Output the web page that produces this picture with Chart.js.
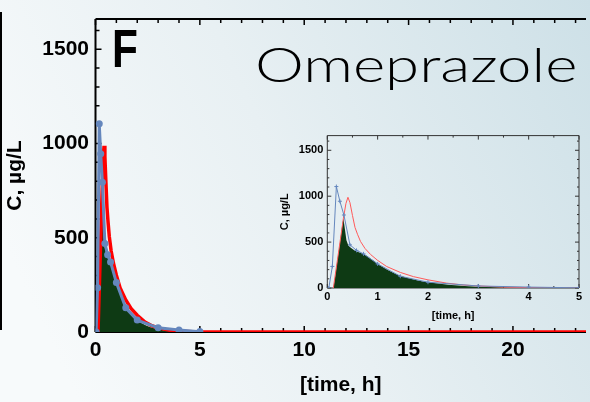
<!DOCTYPE html>
<html>
<head>
<meta charset="utf-8">
<script src="https://cdn.jsdelivr.net/npm/chart.js@4.4.1/dist/chart.umd.min.js"></script>
<style>
html, body { margin: 0; padding: 0; }
body {
    width: 590px; height: 402px; overflow: hidden; position: relative;
    background: linear-gradient(65deg, #f7fafb 10%, #e8f0f3 50%, #cde0e7 100%);
    font-family: "Liberation Sans", Arial, sans-serif;
}
#main { position: absolute; left: 0; top: 0; }
#inset { position: absolute; left: 270px; top: 125px; }
#edge { position: absolute; left: 0; top: 12px; width: 2px; height: 318px; background: #000; }
#panel {
    position: absolute; left: 112px; top: 22px; font: bold 53px "Liberation Sans", Arial, sans-serif;
    transform: scaleX(0.8); transform-origin: left top; line-height: 1;
}
#drug {
    position: absolute; left: 255px; top: 40px; font: 300 48px Lato, "Open Sans", sans-serif;
    transform-origin: left top; line-height: 1; white-space: nowrap;
}
</style>
</head>
<body>
<div id="edge"></div>
<canvas id="main" width="590" height="402"></canvas>
<canvas id="inset" width="320" height="200"></canvas>
<div id="panel">F</div>
<div id="drug">Omeprazole</div>
<script>
// Datos (tiempo en h, concentración en µg/L)
const blueT = [0.03, 0.1, 0.18, 0.25, 0.33, 0.45, 0.58, 0.72, 1.0, 1.45, 2.0, 3.0, 4.0, 5.0];
const blueC = [0, 235, 1105, 945, 795, 470, 410, 372, 262, 128, 63, 22, 10, 2];

const redT = [0.12, 0.2, 0.25, 0.32, 0.37, 0.41, 0.45, 0.5, 0.55, 0.6, 0.66, 0.75, 0.86, 1.0, 1.18, 1.45, 1.71, 2.0, 2.37, 2.7, 3.0, 3.5, 4.0, 5.0, 24];
const redC = [0, 300, 490, 760, 920, 988, 930, 790, 660, 585, 507, 430, 365, 301, 234, 170, 124, 89, 53, 33, 22, 10, 4, 0, 0];

const greenT = [0.12, 0.15, 0.2, 0.25, 0.3, 0.32, 0.35, 0.38, 0.42, 0.46, 0.5, 0.55, 0.6, 0.65, 0.7, 0.75, 0.8, 0.85, 0.9, 0.95, 1.0, 1.1, 1.2, 1.3, 1.4, 1.5, 1.6, 1.7, 1.8, 1.9, 2.0, 2.2, 2.4, 2.6, 2.8, 3.0, 3.3, 3.6, 4.0];
const greenC = [0, 100, 300, 490, 700, 760, 640, 520, 460, 440, 425, 405, 395, 385, 375, 360, 345, 325, 305, 285, 262, 228, 195, 168, 145, 125, 108, 95, 83, 72, 63, 48, 36, 27, 20, 14, 8, 4, 0];

// Ticks
const xTicksMain = [0, 5, 10, 15, 20];
const yTicksMain = [0, 500, 1000, 1500];
const xTicksInset = [0, 1, 2, 3, 4, 5];
const yTicksInset = [0, 500, 1000, 1500];
const xMinorMain = Array.from({ length: 24 }, (_, i) => i);
const yMinor = Array.from({ length: 17 }, (_, i) => i * 100);
const xMinorInset = Array.from({ length: 11 }, (_, i) => i * 0.5);

const pts = (t, c) => t.map((v, i) => ({ x: v, y: c[i] }));

// Marco y marcas hacia dentro
const innerTicks = {
    id: 'innerTicks',
    beforeDatasetsDraw(chart, args, o) {
        const { ctx, chartArea: a, scales: { x, y } } = chart;
        ctx.save();
        ctx.strokeStyle = o.color;
        ctx.lineWidth = o.frame;
        ctx.beginPath();
        ctx.moveTo(a.left, a.top); ctx.lineTo(a.left, a.bottom);
        ctx.moveTo(a.left, a.bottom); ctx.lineTo(a.right, a.bottom);
        ctx.moveTo(a.left, a.top); ctx.lineTo(a.right, a.top);
        if (o.right) { ctx.moveTo(a.right, a.top); ctx.lineTo(a.right, a.bottom); }
        ctx.stroke();
        ctx.lineWidth = o.tickWidth;
        ctx.beginPath();
        o.xMinor.forEach(v => {
            const px = x.getPixelForValue(v);
            const len = o.xMajor.includes(v) ? o.major : o.minor;
            ctx.moveTo(px, a.bottom); ctx.lineTo(px, a.bottom - len);
            ctx.moveTo(px, a.top); ctx.lineTo(px, a.top + len);
        });
        o.yMinor.forEach(v => {
            const py = y.getPixelForValue(v);
            const len = o.yMajor.includes(v) ? o.major : o.minor;
            ctx.moveTo(a.left, py); ctx.lineTo(a.left + len, py);
            if (o.right) { ctx.moveTo(a.right, py); ctx.lineTo(a.right - len, py); }
        });
        ctx.stroke();
        ctx.restore();
    }
};

function makeChart(id, cfg) {
    const f = { family: '"Liberation Sans", Arial, sans-serif', weight: 'bold' };
    return new Chart(document.getElementById(id), {
        type: 'line',
        data: {
            datasets: [
                {
                    data: pts(blueT, blueC), borderColor: '#6587bd', backgroundColor: '#6587bd',
                    borderWidth: cfg.blueW, pointRadius: cfg.pointR, pointStyle: cfg.pointStyle,
                    pointBorderWidth: cfg.pointBW, order: 1
                },
                {
                    data: pts(redT, redC), borderColor: cfg.redColor, borderWidth: cfg.redW,
                    pointRadius: 0, order: 2
                },
                {
                    data: pts(greenT, greenC), borderColor: '#0e3a14', backgroundColor: '#0e3a14',
                    borderWidth: 0, pointRadius: 0, fill: 'origin', order: 3
                }
            ]
        },
        options: {
            responsive: false, animation: false, devicePixelRatio: 1,
            layout: { padding: cfg.padding },
            plugins: {
                legend: { display: false }, tooltip: { enabled: false },
                innerTicks: cfg.ticks
            },
            scales: {
                x: {
                    type: 'linear', min: 0, max: cfg.xMax,
                    afterFit(s) { s.height = cfg.xHeight; },
                    afterBuildTicks(s) { s.ticks = cfg.xTicks.map(v => ({ value: v })); },
                    ticks: { color: '#000', font: { ...f, size: cfg.tickSize }, padding: cfg.xPad, maxRotation: 0, callback: v => String(v) },
                    grid: { display: false, drawTicks: false }, border: { display: false },
                    title: { display: true, text: '[time, h]', color: '#000', font: { ...f, size: cfg.titleSize }, padding: { top: 0, bottom: cfg.xTitlePad } }
                },
                y: {
                    min: 0, max: 1660,
                    afterFit(s) { s.width = cfg.yWidth; },
                    afterBuildTicks(s) { s.ticks = cfg.yTicks.map(v => ({ value: v })); },
                    ticks: { color: '#000', font: { ...f, size: cfg.tickSize }, padding: cfg.yPad, callback: v => String(v) },
                    grid: { display: false, drawTicks: false }, border: { display: false },
                    title: { display: true, text: 'C, µg/L', color: '#000', font: { ...f, size: cfg.titleSize }, padding: { top: cfg.yTitlePad, bottom: 0 } }
                }
            }
        },
        plugins: [innerTicks]
    });
}

makeChart('main', {
    xMax: 23.5, xTicks: xTicksMain, yTicks: yTicksMain,
    padding: { top: 18, right: 0, left: 0, bottom: 0 },
    xHeight: 70, yWidth: 95.5, tickSize: 21, titleSize: 21,
    xPad: 6, yPad: 6.5, xTitlePad: 4.4, yTitlePad: 2.4,
    blueW: 3, pointR: 3.5, pointStyle: 'circle', pointBW: 0,
    redW: 3.5, redColor: '#ff0000',
    ticks: { color: '#000', frame: 2, tickWidth: 1.5, major: 6, minor: 4, right: false,
             xMinor: xMinorMain, xMajor: xTicksMain, yMinor: yMinor, yMajor: yTicksMain }
});

makeChart('inset', {
    xMax: 5, xTicks: xTicksInset, yTicks: yTicksInset,
    padding: { top: 7, right: 11, left: 0, bottom: 0 },
    xHeight: 37, yWidth: 57.3, tickSize: 11, titleSize: 11,
    xPad: 2, yPad: 4, xTitlePad: 2.4, yTitlePad: 8.4,
    blueW: 1, pointR: 2, pointStyle: 'cross', pointBW: 1,
    redW: 1, redColor: '#ff5a5a',
    ticks: { color: '#333', frame: 1, tickWidth: 1, major: 4, minor: 2, right: true,
             xMinor: xMinorInset, xMajor: xTicksInset, yMinor: yMinor, yMajor: yTicksInset }
});

// Ajustar el ancho del título al de la figura
const drug = document.getElementById('drug');
drug.style.transform = 'scaleX(' + (323 / drug.offsetWidth) + ')';
</script>
</body>
</html>
